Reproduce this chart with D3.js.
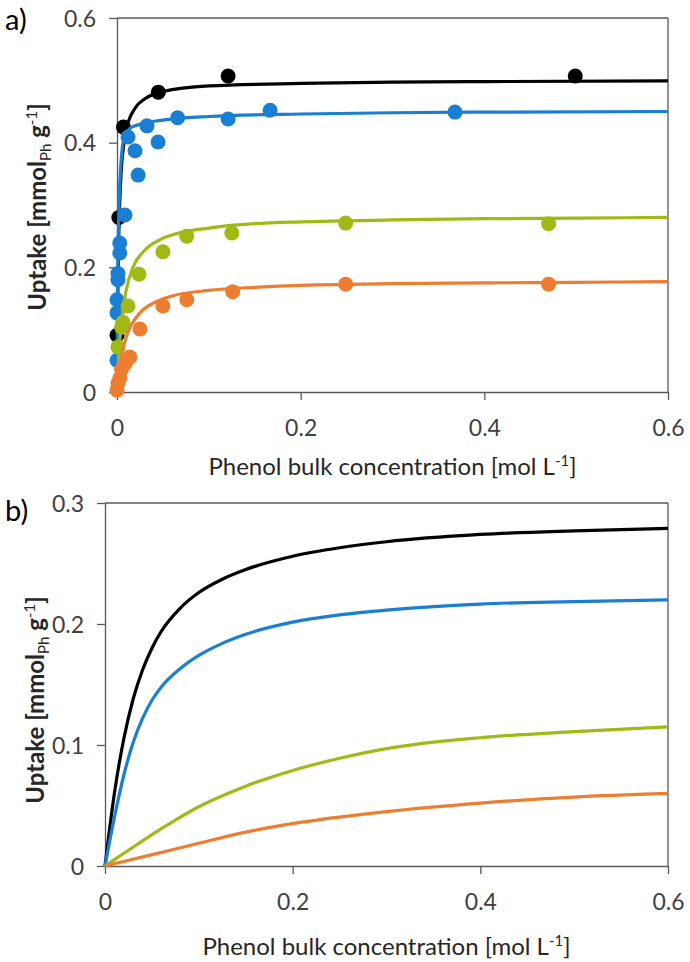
<!DOCTYPE html>
<html>
<head>
<meta charset="utf-8">
<script src="https://cdn.jsdelivr.net/npm/d3@7"></script>
<style>
  html, body { margin: 0; padding: 0; background: #fff; }
  svg { display: block; }
  text { font-family: Lato, "Open Sans", sans-serif; }
</style>
</head>
<body>
<svg id="chart" width="690" height="962"></svg>
<script>
// ---- Panel a: measured uptake (markers) and fitted isotherms (lines) ----
const seriesNames = ["S1", "S2", "S3", "S4"];
const seriesColors = ["#000000", "#1a7ed3", "#a0b914", "#ed7d31"];

const measuredA_S1 = [[0.0, 0.091], [0.002, 0.280], [0.007, 0.425], [0.045, 0.481], [0.121, 0.507], [0.499, 0.507]];
const measuredA_S2 = [[0.0, 0.051], [0.0, 0.127], [0.0, 0.148], [0.001, 0.180], [0.001, 0.190], [0.003, 0.223],
  [0.003, 0.239], [0.0087, 0.284], [0.012, 0.409], [0.0196, 0.387], [0.023, 0.348], [0.0327, 0.427],
  [0.0447, 0.401], [0.066, 0.440], [0.121, 0.438], [0.1667, 0.452], [0.368, 0.449]];
const measuredA_S3 = [[0.001, 0.072], [0.005, 0.104], [0.0065, 0.112], [0.012, 0.138], [0.024, 0.189],
  [0.050, 0.225], [0.076, 0.250], [0.125, 0.255], [0.249, 0.271], [0.470, 0.270]];
const measuredA_S4 = [[0.0, 0.003], [0.001, 0.014], [0.003, 0.022], [0.005, 0.036], [0.009, 0.046],
  [0.014, 0.056], [0.025, 0.101], [0.050, 0.138], [0.076, 0.148], [0.126, 0.161], [0.249, 0.173], [0.470, 0.173]];

const fitA_S1 = [[0, 0], [0.0005, 0.100], [0.001, 0.170], [0.002, 0.256], [0.004, 0.339], [0.007, 0.393],
  [0.010, 0.420], [0.020, 0.456], [0.030, 0.470], [0.050, 0.482], [0.100, 0.491], [0.200, 0.495],
  [0.300, 0.497], [0.400, 0.498], [0.600, 0.499]];
const fitA_S2 = [[0, 0], [0.0005, 0.130], [0.001, 0.210], [0.002, 0.290], [0.004, 0.360], [0.006, 0.395],
  [0.009, 0.413], [0.015, 0.424], [0.030, 0.431], [0.060, 0.438], [0.100, 0.442], [0.200, 0.446],
  [0.300, 0.448], [0.400, 0.449], [0.600, 0.450]];
const fitA_S3 = [[0, 0], [0.002, 0.060], [0.005, 0.114], [0.010, 0.163], [0.0174, 0.200], [0.030, 0.227],
  [0.045, 0.243], [0.060, 0.252], [0.100, 0.263], [0.150, 0.270], [0.200, 0.273], [0.300, 0.276],
  [0.400, 0.278], [0.500, 0.279], [0.600, 0.280]];
const fitA_S4 = [[0, 0], [0.002, 0.029], [0.005, 0.058], [0.010, 0.088], [0.015, 0.106], [0.025, 0.127],
  [0.040, 0.143], [0.060, 0.154], [0.100, 0.163], [0.150, 0.168], [0.200, 0.171], [0.300, 0.174],
  [0.400, 0.175], [0.500, 0.176], [0.600, 0.177]];

// ---- Panel b: predicted isotherms ----
const curveB_S1 = [[0, 0], [0.010, 0.060], [0.020, 0.105], [0.030, 0.138], [0.040, 0.162], [0.050, 0.180],
  [0.060, 0.194], [0.080, 0.213], [0.100, 0.226], [0.125, 0.237], [0.150, 0.245], [0.200, 0.256],
  [0.250, 0.263], [0.300, 0.268], [0.400, 0.274], [0.500, 0.277], [0.600, 0.279]];
const curveB_S2 = [[0, 0], [0.010, 0.040], [0.020, 0.075], [0.030, 0.102], [0.040, 0.122], [0.050, 0.137],
  [0.060, 0.148], [0.080, 0.163], [0.100, 0.174], [0.125, 0.184], [0.150, 0.1915], [0.200, 0.2015],
  [0.250, 0.2075], [0.300, 0.2115], [0.400, 0.2165], [0.500, 0.2185], [0.600, 0.220]];
const curveB_S3 = [[0, 0], [0.025, 0.013], [0.050, 0.026], [0.075, 0.038], [0.100, 0.049], [0.150, 0.066],
  [0.200, 0.079], [0.250, 0.089], [0.300, 0.097], [0.400, 0.106], [0.500, 0.111], [0.600, 0.115]];
const curveB_S4 = [[0, 0], [0.048, 0.009], [0.101, 0.019], [0.150, 0.028], [0.208, 0.036], [0.300, 0.045],
  [0.400, 0.052], [0.500, 0.057], [0.600, 0.060]];

const xTicks = [0, 0.2, 0.4, 0.6];
const yTicksA = [0, 0.2, 0.4, 0.6];
const yTicksB = [0, 0.1, 0.2, 0.3];

const measuredA = [measuredA_S1, measuredA_S2, measuredA_S3, measuredA_S4];
const fitA = [fitA_S1, fitA_S2, fitA_S3, fitA_S4];
const curvesB = [curveB_S1, curveB_S2, curveB_S3, curveB_S4];

const svg = d3.select("#chart");
const axisColor = "#595959";
const labelColor = "#404040";

function fmt(v) { return v === 0 ? "0" : d3.format(".1f")(v); }

function drawPanel(opts) {
  const { left, right, top, bottom, yMax, yTicks, tag, tagY, titleY, yTitleX, yTitleY } = opts;
  const x = d3.scaleLinear().domain([0, 0.6]).range([left, right]);
  const y = d3.scaleLinear().domain([0, yMax]).range([bottom, top]);
  const g = svg.append("g");

  // frame: top and right edges
  g.append("line").attr("x1", left).attr("x2", right).attr("y1", top).attr("y2", top)
    .attr("stroke", axisColor).attr("stroke-width", 1.3);
  g.append("line").attr("x1", right).attr("x2", right).attr("y1", top).attr("y2", bottom)
    .attr("stroke", axisColor).attr("stroke-width", 1.3);

  const xAxis = g.append("g").attr("transform", `translate(0,${bottom})`)
    .call(d3.axisBottom(x).tickValues(xTicks).tickFormat(fmt).tickSize(8).tickSizeOuter(0).tickPadding(20));
  const yAxis = g.append("g").attr("transform", `translate(${left},0)`)
    .call(d3.axisLeft(y).tickValues(yTicks).tickFormat(fmt).tickSize(8).tickSizeOuter(0).tickPadding(13));
  [xAxis, yAxis].forEach(a => {
    a.selectAll("path, line").attr("stroke", axisColor).attr("stroke-width", 1.3);
    a.selectAll("text").attr("fill", labelColor).style("font-size", "23px").style("font-family", "Lato, sans-serif");
  });
  yAxis.selectAll("text").attr("dy", "0.36em");

  // x axis title
  const xt = g.append("text").attr("x", (left + right) / 2).attr("y", titleY)
    .attr("text-anchor", "middle").attr("fill", "#262626").style("font-size", "24px");
  xt.append("tspan").text("Phenol bulk concentration [mol L");
  xt.append("tspan").text("-1").attr("dy", -9).style("font-size", "15px");
  xt.append("tspan").text("]").attr("dy", 9);

  // y axis title
  const yt = g.append("text").attr("transform", `translate(${yTitleX},${yTitleY}) rotate(-90)`)
    .attr("text-anchor", "middle").attr("fill", "#262626").style("font-size", "24px").style("font-weight", "bold");
  yt.append("tspan").text("Uptake [mmol");
  yt.append("tspan").text("Ph").attr("dy", 5).style("font-size", "15px").style("font-weight", "normal");
  yt.append("tspan").text(" g").attr("dy", -5);
  yt.append("tspan").text("-1").attr("dy", -9).style("font-size", "15px").style("font-weight", "normal");
  yt.append("tspan").text("]").attr("dy", 9);

  // panel tag
  svg.append("text").attr("x", 5).attr("y", tagY).attr("fill", "#000").style("font-size", "29px").text(tag);

  return { g, x, y };
}

const line = (x, y) => d3.line().x(d => x(d[0])).y(d => y(d[1])).curve(d3.curveMonotoneX);

// Panel a
const A = drawPanel({ left: 117, right: 668, top: 18, bottom: 392, yMax: 0.6, yTicks: yTicksA,
  tag: "a)", tagY: 30, titleY: 475, yTitleX: 46, yTitleY: 207 });
seriesNames.forEach((name, i) => {
  A.g.append("path").datum(fitA[i]).attr("d", line(A.x, A.y))
    .attr("fill", "none").attr("stroke", seriesColors[i]).attr("stroke-width", 3.2);
  A.g.selectAll(null).data(measuredA[i]).enter().append("circle")
    .attr("cx", d => A.x(d[0])).attr("cy", d => A.y(d[1])).attr("r", 7.5)
    .attr("fill", seriesColors[i]);
});

// Panel b
const B = drawPanel({ left: 105, right: 668, top: 503, bottom: 866, yMax: 0.3, yTicks: yTicksB,
  tag: "b)", tagY: 521, titleY: 955, yTitleX: 44, yTitleY: 700 });
seriesNames.forEach((name, i) => {
  B.g.append("path").datum(curvesB[i]).attr("d", line(B.x, B.y))
    .attr("fill", "none").attr("stroke", seriesColors[i]).attr("stroke-width", 3.2);
});
</script>
</body>
</html>
